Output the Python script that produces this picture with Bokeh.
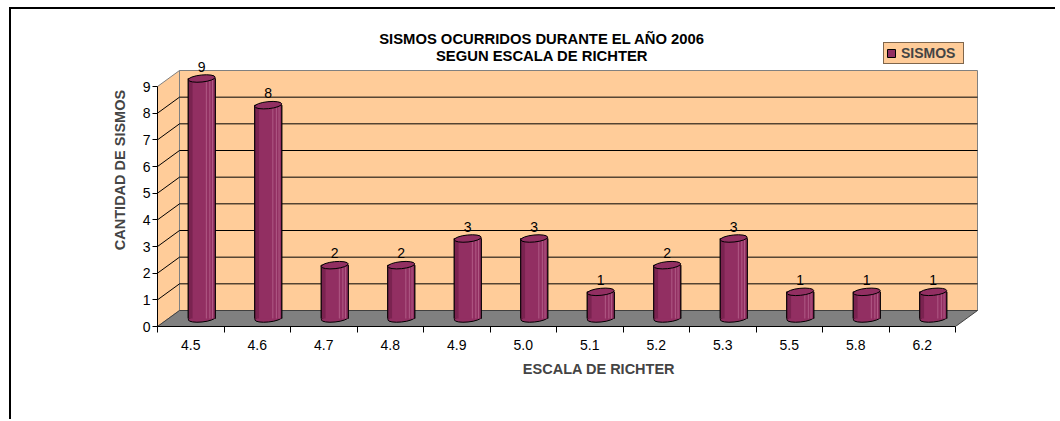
from bokeh.plotting import figure
from bokeh.models import Range1d, FixedTicker, Label
from bokeh.embed import file_html
from bokeh.resources import INLINE
from bokeh.core.properties import value

# ---------------- data ----------------
magnitudes = ["4.5", "4.6", "4.7", "4.8", "4.9", "5.0", "5.1", "5.2", "5.3", "5.5", "5.8", "6.2"]
sismos = [9, 8, 2, 2, 3, 3, 1, 2, 3, 1, 1, 1]
y_ticks = [0, 1, 2, 3, 4, 5, 6, 7, 8, 9]
title_lines = ["SISMOS OCURRIDOS DURANTE EL AÑO 2006", "SEGUN ESCALA DE RICHTER"]
x_title = "ESCALA DE RICHTER"
y_title = "CANTIDAD DE SISMOS"
series_name = "SISMOS"

# ---------------- style / layout ----------------
FONT = "Liberation Sans"
WALL = "#FFCC99"
WALL_EDGE = "#808080"
FLOOR = "#808080"
BAR = "#922F62"
BAR_DARK = "#7A2350"
BAR_LIGHT = "#B8658F"

W, H = 1046, 412
ML, MR, MT, MB = 146, 17, 4, 95
PXX = 66.5          # px per category
PXY = 240 / 9       # px per unit
n = len(magnitudes)
ymax = max(y_ticks)
DX = 22 / PXX       # depth offset (data units)
DY = 16 / PXY
BW = 27 / PXX       # cylinder width
EH = 7 / PXY        # ellipse height

frame_w = W - ML - MR
frame_h = H - MT - MB

p = figure(width=W, height=H, output_backend="svg", toolbar_location=None,
           title=None,
           x_range=Range1d(0, frame_w / PXX), y_range=Range1d(0, frame_h / PXY),
           min_border_left=ML, min_border_right=MR, min_border_top=MT, min_border_bottom=MB)
p.background_fill_color = "white"
p.border_fill_color = "white"
p.outline_line_color = None
p.xgrid.visible = False
p.ygrid.visible = False
p.styles = {"margin-left": "9px", "margin-top": "7px",
            "border-left": "2px solid black", "border-top": "2px solid black"}

# ---------------- 3D walls ----------------
p.quad(left=[DX], right=[n + DX], bottom=[DY], top=[ymax + DY],
       fill_color=WALL, line_color=WALL_EDGE, line_width=1)
p.patch(x=[0, DX, DX, 0], y=[0, DY, ymax + DY, ymax],
        fill_color=WALL, line_color=WALL_EDGE, line_width=1)
p.patch(x=[0, n, n + DX, DX], y=[0, 0, DY, DY],
        fill_color=FLOOR, line_color="#404040", line_width=1)

grid_vals = [t for t in y_ticks if 0 < t < ymax]
p.segment(x0=[DX] * len(grid_vals), y0=[t + DY for t in grid_vals],
          x1=[n + DX] * len(grid_vals), y1=[t + DY for t in grid_vals],
          line_color="black", line_width=1)
p.segment(x0=[0] * len(grid_vals), y0=grid_vals,
          x1=[DX] * len(grid_vals), y1=[t + DY for t in grid_vals],
          line_color="black", line_width=1)

# ---------------- cylinders ----------------
xc = [i + 0.5 + DX / 2 for i in range(n)]
yb = [DY / 2] * n
yt = [v + DY / 2 for v in sismos]

# body with outline (also used as legend glyph)
p.vbar(x=xc, bottom=yb, top=yt, width=BW, fill_color=BAR, line_color="black",
       line_width=1, legend_label=series_name)
p.ellipse(x=xc, y=yb, width=BW, height=EH, angle=0.1,
          fill_color=BAR, line_color="black", line_width=1)
p.vbar(x=xc, bottom=yb, top=yt, width=BW, fill_color=BAR, line_color=None)
p.vbar(x=[x - BW * 0.42 for x in xc], bottom=yb, top=yt, width=BW * 0.16,
       fill_color=BAR_DARK, line_color=None)
for f in (0.17, 0.3, 0.4):
    p.segment(x0=[x + BW * f for x in xc], y0=yb, x1=[x + BW * f for x in xc], y1=yt,
              line_color=BAR_LIGHT, line_width=1, line_alpha=0.8)
p.segment(x0=[x - BW / 2 for x in xc], y0=yb, x1=[x - BW / 2 for x in xc], y1=yt,
          line_color="black", line_width=1)
p.segment(x0=[x + BW / 2 for x in xc], y0=yb, x1=[x + BW / 2 for x in xc], y1=yt,
          line_color="black", line_width=1)
p.ellipse(x=xc, y=yt, width=BW, height=EH, angle=0.1,
          fill_color=BAR, line_color="black", line_width=1)

p.text(x=xc, y=yt, text=[str(v) for v in sismos], y_offset=-12,
       text_align="center", text_baseline="middle",
       text_font=value(FONT), text_font_size="14px", text_color="black")

lg = p.legend[0]
lg.location = (726, 262)
lg.margin = 0
lg.padding = 2
lg.spacing = 0
lg.glyph_width = 10
lg.glyph_height = 10
lg.label_standoff = 5
lg.label_width = 60
lg.label_height = 14
lg.label_text_font = FONT
lg.label_text_font_size = "14px"
lg.label_text_font_style = "bold"
lg.background_fill_color = WALL
lg.background_fill_alpha = 1
lg.border_line_color = "black"
lg.border_line_width = 1

# ---------------- axes ----------------
xa = p.xaxis[0]
xa.ticker = FixedTicker(ticks=[i + 0.5 for i in range(n)], minor_ticks=list(range(n + 1)))
xa.major_label_overrides = {i + 0.5: lab for i, lab in enumerate(magnitudes)}
xa.bounds = (0, n)
xa.major_tick_line_color = None
xa.minor_tick_in = 0
xa.minor_tick_out = 6
xa.minor_tick_line_color = "black"
xa.axis_line_color = "black"
xa.major_label_standoff = 7
xa.major_label_text_font = FONT
xa.major_label_text_font_size = "14px"
xa.major_label_text_color = "black"
xa.axis_label = x_title
xa.axis_label_text_font = FONT
xa.axis_label_text_font_size = "14.5px"
xa.axis_label_text_font_style = "bold"
xa.axis_label_standoff = 8

ya = p.yaxis[0]
ya.ticker = FixedTicker(ticks=y_ticks, minor_ticks=[])
ya.bounds = (0, ymax)
ya.major_tick_in = 0
ya.major_tick_out = 5
ya.major_tick_line_color = "black"
ya.axis_line_color = "black"
ya.major_label_standoff = 2
ya.major_label_text_font = FONT
ya.major_label_text_font_size = "14px"
ya.major_label_text_color = "black"
ya.axis_label = y_title
ya.axis_label_text_font = FONT
ya.axis_label_text_font_size = "14.5px"
ya.axis_label_text_font_style = "bold"
ya.axis_label_standoff = 12

# ---------------- titles ----------------
for txt, ty in zip(title_lines, (287.5, 271)):
    p.add_layout(Label(x=384.5, y=ty, x_units="screen", y_units="screen", text=txt,
                       text_align="center", text_baseline="middle",
                       text_font=FONT, text_font_size="14.8px", text_font_style="bold",
                       text_color="black"))

open("out.html", "w").write(file_html(p, INLINE))
